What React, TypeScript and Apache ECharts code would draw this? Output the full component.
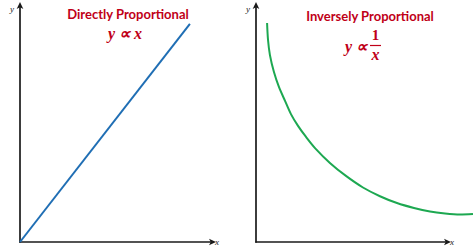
import React, { useEffect, useRef } from "react";
import * as echarts from "echarts";

const leftTitle = "Directly Proportional";
const rightTitle = "Inversely Proportional";
const xName = "x";
const yName = "y";

// Directly proportional: straight line through the origin
const directX = [0, 8.85];
const directY = [0, 9.24];

// Inversely proportional: hand-drawn style curve
const inverseX = [0.58, 0.63, 0.73, 0.94, 1.2, 1.52, 1.83, 2.2, 2.62, 3.09, 3.87, 4.71, 5.6, 6.49, 7.38, 8.27, 9.11, 9.9, 10.68, 11.36];
const inverseY = [9.28, 8.56, 7.92, 7.2, 6.57, 5.98, 5.42, 4.92, 4.45, 3.98, 3.35, 2.8, 2.31, 1.94, 1.65, 1.44, 1.29, 1.21, 1.17, 1.19];

const RED = "#C00018";
const AXIS = "#1a1a1a";

export default function App() {
  const ref = useRef<HTMLDivElement>(null);
  useEffect(() => {
    if (!ref.current) return;
    const chart = echarts.init(ref.current, null, { renderer: "svg" });
    const axisCommon = (isX: boolean, name: string) => ({
      type: "value",
      min: 0,
      max: 10,
      name,
      nameLocation: "end",
      nameGap: isX ? 3 : -7,
      nameTextStyle: isX
        ? { fontFamily: "Liberation Serif", fontStyle: "italic", fontSize: 9, color: AXIS }
        : { fontFamily: "Liberation Serif", fontStyle: "italic", fontSize: 9, color: AXIS, align: "right", padding: [0, 6, 0, 0] },
      axisLine: {
        show: true,
        lineStyle: { color: AXIS, width: 1.7 },
        symbol: ["none", "arrow"],
        symbolSize: [5, 7],
        symbolOffset: [0, 4],
      },
      axisTick: { show: false },
      axisLabel: { show: false },
      splitLine: { show: false },
    });
    const hidden = {
      type: "value",
      min: 0,
      max: 10,
      show: false,
      axisLine: { show: false },
      axisTick: { show: false },
      axisLabel: { show: false },
      splitLine: { show: false },
    };
    const option: any = {
      animation: false,
      backgroundColor: "#ffffff",
      grid: [
        { left: 20, top: 6, width: 192, height: 236 },
        { left: 256, top: 6, width: 191, height: 236 },
        { left: 256, top: 6, width: 218, height: 236 },
      ],
      xAxis: [
        { ...axisCommon(true, xName), gridIndex: 0 },
        { ...axisCommon(true, xName), gridIndex: 1 },
        { ...hidden, max: 218 / 19.1, gridIndex: 2 },
      ],
      yAxis: [
        { ...axisCommon(false, yName), gridIndex: 0 },
        { ...axisCommon(false, yName), gridIndex: 1 },
        { ...hidden, gridIndex: 2 },
      ],
      series: [
        {
          type: "line",
          xAxisIndex: 0,
          yAxisIndex: 0,
          data: directX.map((x, i) => [x, directY[i]]),
          showSymbol: false,
          lineStyle: { color: "#1F6EB4", width: 2 },
        },
        {
          type: "line",
          xAxisIndex: 2,
          yAxisIndex: 2,
          data: inverseX.map((x, i) => [x, inverseY[i]]),
          showSymbol: false,
          smooth: 0.3,
          lineStyle: { color: "#1DA851", width: 2 },
        },
      ],
      graphic: [
        {
          type: "text",
          x: 128,
          y: 14,
          style: {
            text: leftTitle,
            fill: RED,
            font: "bold 13px Lato",
            align: "center",
            verticalAlign: "middle",
          },
        },
        {
          type: "text",
          x: 125,
          y: 33,
          style: {
            text: "y ∝ x",
            fill: RED,
            font: "italic bold 16px 'Liberation Serif'",
            align: "center",
            verticalAlign: "middle",
          },
        },
        {
          type: "text",
          x: 370,
          y: 16,
          style: {
            text: rightTitle,
            fill: RED,
            font: "bold 13px Lato",
            align: "center",
            verticalAlign: "middle",
          },
        },
        {
          type: "text",
          x: 367,
          y: 46,
          style: {
            text: "y ∝",
            fill: RED,
            font: "italic bold 16px 'Liberation Serif'",
            align: "right",
            verticalAlign: "middle",
          },
        },
        {
          type: "text",
          x: 375.5,
          y: 35,
          style: {
            text: "1",
            fill: RED,
            font: "bold 15px 'Liberation Serif'",
            align: "center",
            verticalAlign: "middle",
          },
        },
        {
          type: "line",
          shape: { x1: 370, y1: 45.5, x2: 381, y2: 45.5 },
          style: { stroke: RED, lineWidth: 1.2 },
        },
        {
          type: "text",
          x: 375.5,
          y: 54,
          style: {
            text: "x",
            fill: RED,
            font: "italic bold 16px 'Liberation Serif'",
            align: "center",
            verticalAlign: "middle",
          },
        },
      ],
    };
    chart.setOption(option);
    return () => chart.dispose();
  }, []);
  return <div ref={ref} style={{ width: 474, height: 252, position: "absolute", left: 0, top: 0 }} />;
}
